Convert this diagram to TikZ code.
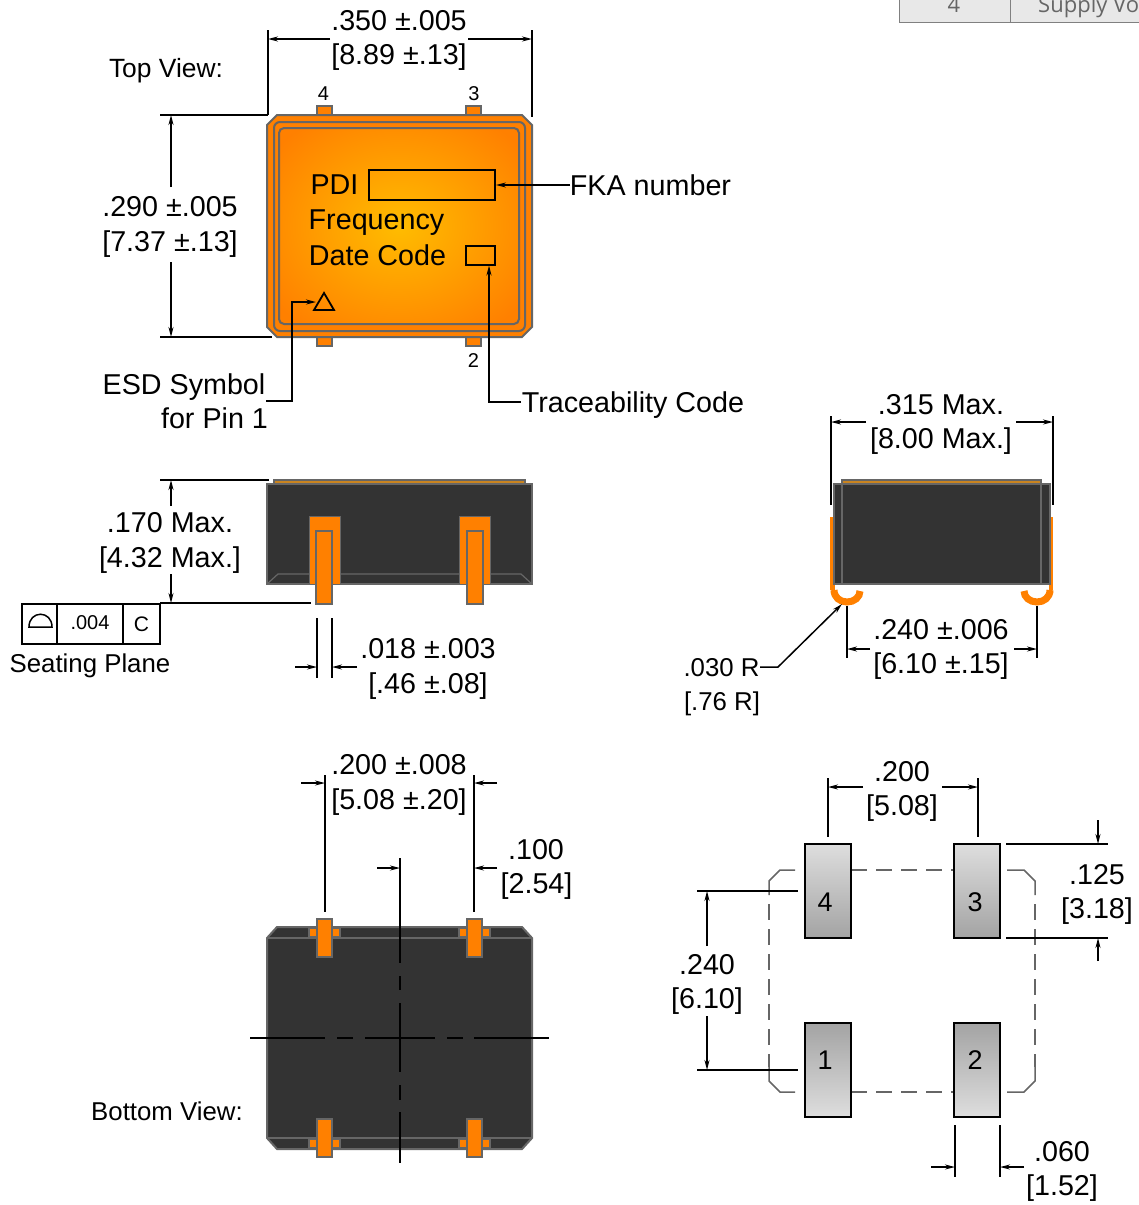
\documentclass[tikz,border=0pt]{standalone}
\usepackage{fontspec}
\setmainfont{Liberation Sans}
\newfontfamily\tablefont{Open Sans}
\usetikzlibrary{arrows.meta}
\definecolor{pdorange}{HTML}{FF8000}
\definecolor{pdglow}{HTML}{FFBC00}
\definecolor{pdedge}{HTML}{666666}
\definecolor{pddark}{HTML}{333333}
\definecolor{pdtop}{HTML}{C98420}
\newcommand{\dimline}[4]{\coordinate (#1a) at (#2); \coordinate (#1b) at (#3); \draw[#4] (#1a) -- (#1b);}
\newcommand{\txt}[4]{\node[#1] (#2) at (#3) {#4};}
\tikzset{
  lbl/.style={anchor=base,inner sep=0pt,font=\fontsize{28.7}{34}\selectfont},
  lblsm/.style={anchor=base,inner sep=0pt,font=\fontsize{25.8}{30}\selectfont},
  lbltop/.style={anchor=base,inner sep=0pt,font=\fontsize{26.4}{30}\selectfont},
  pinno/.style={anchor=base,inner sep=0pt,font=\fontsize{20}{24}\selectfont},
  ext/.style={line width=1.5pt,black},
  dimarr/.style={line width=1.5pt,black,-{Stealth[length=10pt,width=5pt]}},
  shell/.style={draw=pdedge,line width=2pt},
  leadfill/.style={fill=pdorange,draw=pdedge,line width=1.5pt},
  bodydark/.style={fill=pddark,draw=pdedge,line width=2pt},
  toplayer/.style={fill=pdtop,draw=pdedge,line width=1.5pt},
  markbox/.style={draw=black,line width=1.8pt,inner sep=0pt,fill=none},
  fcf/.style={draw=black,line width=1.5pt,inner sep=0pt,minimum height=40pt},
  landpad/.style={draw=black,line width=2pt,inner sep=0pt,minimum width=46pt,minimum height=94pt,font=\fontsize{27}{32}\selectfont},
  padupper/.style={landpad,top color=black!13,bottom color=black!36},
  padlower/.style={landpad,top color=black!36,bottom color=black!13},
  center line/.style={line width=1.8pt,black},
  outline dash/.style={draw=pdedge,line width=1.5pt,dash pattern=on 16pt off 9pt},
  outline solid/.style={draw=pdedge,line width=1.5pt},
  tablecell/.style={fill=black!9,draw=black!50,line width=1pt}
}
\begin{document}
\begin{tikzpicture}[x=1pt,y=-1pt]
\useasboundingbox (0,0) rectangle (1139,1205);
\clip (0,0) rectangle (1139,1205);

% table fragment
\path[tablecell] (899,-5) rectangle (1010,22);
\path[tablecell] (1010,-5) rectangle (1150,22);
\node[anchor=base,inner sep=0pt,text=black!60,font=\tablefont\fontsize{22}{26}\selectfont] (tblpin) at (954,12) {4};
\node[anchor=base west,inner sep=0pt,text=black!60,font=\tablefont\fontsize{22}{26}\selectfont] (tblname) at (1038,12) {Supply Vo};

% ===== top view =====
\foreach \xa/\ya in {317/106,466/106,317/337,466/337}{
  \path[leadfill] (\xa,\ya) rectangle (\xa+15,\ya+9);
}
\path[shell,fill=pdorange] (277,115) -- (522,115) -- (532,125) -- (532,327) -- (522,337) -- (277,337) -- (267,327) -- (267,125) -- cycle;
\path[shell,fill=pdorange,rounded corners=6pt] (274,122) rectangle (525,331);
\begin{scope}
\clip[rounded corners=5pt] (279,128) rectangle (519,324);
\shade[inner color=pdglow,outer color=pdorange] (245,98) rectangle (553,354);
\end{scope}
\draw[draw=pdedge,line width=2pt,rounded corners=5pt] (279,128) rectangle (519,324);

\node[markbox,minimum width=126pt,minimum height=30pt] (fkabox) at (432,185) {};
\node[markbox,minimum width=29pt,minimum height=19pt] (tracebox) at (480.5,255.5) {};
\coordinate (esdA) at (324,293); \coordinate (esdB) at (334,310); \coordinate (esdC) at (314,310);
\draw[line width=1.8pt,black] (esdA) -- (esdB) -- (esdC) -- cycle;
\coordinate (esdtip) at (316,302);

\txt{lbl}{tPDI}{334.5,194}{PDI}
\txt{lbl}{tFreq}{376.5,229}{Frequency}
\txt{lbl}{tDate}{377.5,265}{Date Code}
\txt{pinno}{pinA}{323.5,100}{4}
\txt{pinno}{pinB}{474,100}{3}
\txt{pinno}{pinC}{473.5,367}{2}
\txt{lbltop}{tTop}{166,77}{Top View:}
\txt{lbl}{tFKA}{650.5,195}{FKA number}
\txt{lbl}{tTrace}{633,412}{Traceability Code}
\txt{lbl}{tESD}{184,394}{ESD Symbol}
\txt{lbl}{tPin}{214.5,428}{for Pin 1}

\coordinate (fkaend) at (570,185);
\draw[dimarr] (fkaend) -- (fkabox.east);
\coordinate (traceend) at (521,402);
\coordinate (tracetip) at (489,265.5);
\draw[dimarr] (traceend) -| (tracetip);
\coordinate (esdend) at (266,401);
\draw[dimarr] (esdend) -| (292,302) -- (esdtip);

\txt{lbl}{t350}{399,30}{.350 ±.005}
\txt{lbl}{t889}{399,64}{[8.89 ±.13]}
\dimline{ta}{268,30}{268,115}{ext}
\dimline{tb}{532,30}{532,117}{ext}
\dimline{tc}{330,39}{268,39}{dimarr}
\dimline{td}{468,39}{532,39}{dimarr}
\txt{lbl}{t290}{170,216}{.290 ±.005}
\txt{lbl}{t737}{170,251}{[7.37 ±.13]}
\dimline{te}{160,115}{268,115}{ext}
\dimline{tf}{160,337}{272,337}{ext}
\dimline{tg}{171,187}{171,115}{dimarr}
\dimline{th}{171,262}{171,337}{dimarr}

% ===== front side view =====
\path[toplayer] (274,480) rectangle (525,484);
\path[bodydark] (267,484) rectangle (532,584);
\draw[draw=pdedge,line width=1.2pt] (267,584) -- (278,574) -- (521,574) -- (532,584);
\foreach \xa in {309,459}{
  \path[fill=pdorange,draw=pdedge,line width=1pt] (\xa,516) rectangle (\xa+31,584);
}
\foreach \xa in {316,467}{
  \path[leadfill] (\xa,531) rectangle (\xa+16,604);
}
\txt{lbl}{t170}{170,532}{.170 Max.}
\txt{lbl}{t432}{170,567}{[4.32 Max.]}
\dimline{sa}{160,480}{269,480}{ext}
\dimline{sb}{160,603}{311,603}{ext}
\dimline{sc}{171,506}{171,480}{dimarr}
\dimline{sd}{171,574}{171,603}{dimarr}
\node[fcf,minimum width=35pt] (fcfA) at (39.5,624) {};
\node[fcf,minimum width=66pt,font=\fontsize{20}{24}\selectfont] (fcfB) at (90,624) {\raisebox{2pt}{.004}};
\node[fcf,minimum width=37pt,font=\fontsize{21}{25}\selectfont] (fcfC) at (141.5,624) {C};
\coordinate (symL) at (29,627); \coordinate (symR) at (52,627);
\draw[line width=1.5pt,black] (symL) .. controls (29,610) and (52,610) .. (symR) -- cycle;
\txt{lblsm}{tSeat}{90,672}{Seating Plane}
\dimline{se}{317,618}{317,678}{ext}
\dimline{sf}{332,618}{332,678}{ext}
\dimline{sg}{295,667}{317,667}{dimarr}
\dimline{sh}{357,667}{332,667}{dimarr}
\txt{lbl}{t018}{428,658}{.018 ±.003}
\txt{lbl}{t46}{428,693}{[.46 ±.08]}

% ===== end side view =====
\path[fill=pdorange] (830,517) rectangle (835,590);
\path[fill=pdorange] (1049,517) rectangle (1053,590);
\draw[pdorange,line width=7pt] (834,590) .. controls (834,597.2) and (839.8,602) .. (847,602) .. controls (854.2,602) and (860,597.2) .. (860,591);
\draw[pdorange,line width=7pt] (1050,590) .. controls (1050,597.2) and (1044.2,602) .. (1037,602) .. controls (1029.8,602) and (1024,597.2) .. (1024,591);
\path[toplayer] (842,480) rectangle (1041,484);
\path[bodydark] (834,484) rectangle (1050,584);
\draw[draw=pdedge,line width=1.5pt] (842,484) -- (842,584) (1041,484) -- (1041,584);
\txt{lbl}{t315}{941,414}{.315 Max.}
\txt{lbl}{t800}{941,448}{[8.00 Max.]}
\dimline{ra}{831,416}{831,505}{ext}
\dimline{rb}{1053,416}{1053,505}{ext}
\dimline{rc}{866,422}{831,422}{dimarr}
\dimline{rd}{1016,422}{1053,422}{dimarr}
\txt{lbl}{t240}{941,639}{.240 ±.006}
\txt{lbl}{t610}{941,673}{[6.10 ±.15]}
\dimline{re}{847,606}{847,658}{ext}
\dimline{rf}{1037,606}{1037,658}{ext}
\dimline{rg}{870,649}{847,649}{dimarr}
\dimline{rh}{1014,649}{1037,649}{dimarr}
\txt{lblsm}{t030}{721.5,676}{.030 R}
\txt{lblsm}{t76}{722,710}{[.76 R]}
\coordinate (ldA) at (760,667); \coordinate (ldB) at (778,667); \coordinate (ldC) at (842,604);
\draw[dimarr] (ldA) -- (ldB) -- (ldC);

% ===== bottom view =====
\path[bodydark] (277,927) -- (522,927) -- (532,938) -- (532,1138) -- (522,1149) -- (277,1149) -- (267,1138) -- (267,938) -- cycle;
\draw[draw=pdedge,line width=1.5pt] (267,938) -- (532,938) (267,1138) -- (532,1138);
\foreach \xa in {309,459}{
  \foreach \ya in {928,1139}{
    \path[leadfill] (\xa,\ya) rectangle (\xa+31,\ya+9);
  }
}
\foreach \xa in {317,467}{
  \foreach \ya in {919,1119}{
    \path[leadfill] (\xa,\ya) rectangle (\xa+15,\ya+38);
  }
}
\dimline{ba}{250,1038}{549,1038}{center line,dash pattern=on 75pt off 12pt on 16pt off 12pt on 70pt off 12pt on 16pt off 11pt on 75pt}
\dimline{bb}{400,858}{400,1163}{center line,dash pattern=on 105pt off 13pt on 14pt off 13pt on 69pt off 13pt on 15pt off 12pt on 51pt}
\txt{lbl}{t200}{399,774}{.200 ±.008}
\txt{lbl}{t508}{399,809}{[5.08 ±.20]}
\dimline{bc}{325,775}{325,912}{ext}
\dimline{bd}{474,775}{474,912}{ext}
\dimline{be}{301,783}{325,783}{dimarr}
\dimline{bf}{497,783}{474,783}{dimarr}
\txt{lbl}{t100}{536,859}{.100}
\txt{lbl}{t254}{536.5,893}{[2.54]}
\dimline{bg}{497,868}{474,868}{dimarr}
\dimline{bh}{377,868}{400,868}{dimarr}
\txt{lblsm}{tBot}{167,1120}{Bottom View:}

% ===== land pattern =====
\draw[outline solid] (795,870) -- (780,870) -- (769,881) -- (769,895);
\draw[outline solid] (1007,870) -- (1024,870) -- (1035,881) -- (1035,895);
\draw[outline solid] (795,1092) -- (780,1092) -- (769,1081) -- (769,1067);
\draw[outline solid] (1007,1092) -- (1024,1092) -- (1035,1081) -- (1035,1067);
\draw[outline dash] (851,870) -- (954,870);
\draw[outline dash] (851,1092) -- (954,1092);
\draw[outline dash] (769,904) -- (769,1067);
\draw[outline dash] (1035,904) -- (1035,1067);
\node[padupper] (pad4) at (827.5,891) {};
\node[padupper] (pad3) at (977,891) {};
\node[padlower] (pad1) at (827.5,1070) {};
\node[padlower] (pad2) at (977,1070) {};
\node[anchor=base,inner sep=0pt,font=\fontsize{27}{32}\selectfont] (no4) at (825,911) {4};
\node[anchor=base,inner sep=0pt,font=\fontsize{27}{32}\selectfont] (no3) at (975,911) {3};
\node[anchor=base,inner sep=0pt,font=\fontsize{27}{32}\selectfont] (no1) at (825,1069) {1};
\node[anchor=base,inner sep=0pt,font=\fontsize{27}{32}\selectfont] (no2) at (975,1069) {2};
\txt{lbl}{t200b}{902,781}{.200}
\txt{lbl}{t508b}{902,815}{[5.08]}
\dimline{la}{828,778}{828,837}{ext}
\dimline{lb}{978,778}{978,837}{ext}
\dimline{lc}{863,787}{828,787}{dimarr}
\dimline{ld}{942,787}{978,787}{dimarr}
\txt{lbl}{t125}{1097,884}{.125}
\txt{lbl}{t318}{1097,918}{[3.18]}
\dimline{le}{1006,844}{1108,844}{ext}
\dimline{lf}{1006,938}{1108,938}{ext}
\dimline{lg}{1098,820}{1098,844}{dimarr}
\dimline{lh}{1098,961}{1098,938}{dimarr}
\txt{lbl}{t240b}{707,974}{.240}
\txt{lbl}{t610b}{707,1008}{[6.10]}
\dimline{li}{697,891}{798,891}{ext}
\dimline{lj}{697,1070}{798,1070}{ext}
\dimline{lk}{707,946}{707,891}{dimarr}
\dimline{ll}{707,1016}{707,1070}{dimarr}
\txt{lbl}{t060}{1062,1161}{.060}
\txt{lbl}{t152}{1062,1195}{[1.52]}
\dimline{lm}{955,1125}{955,1177}{ext}
\dimline{ln}{1000,1125}{1000,1177}{ext}
\dimline{lo}{931,1167}{955,1167}{dimarr}
\dimline{lp}{1024,1167}{1000,1167}{dimarr}
\end{tikzpicture}
\end{document}
